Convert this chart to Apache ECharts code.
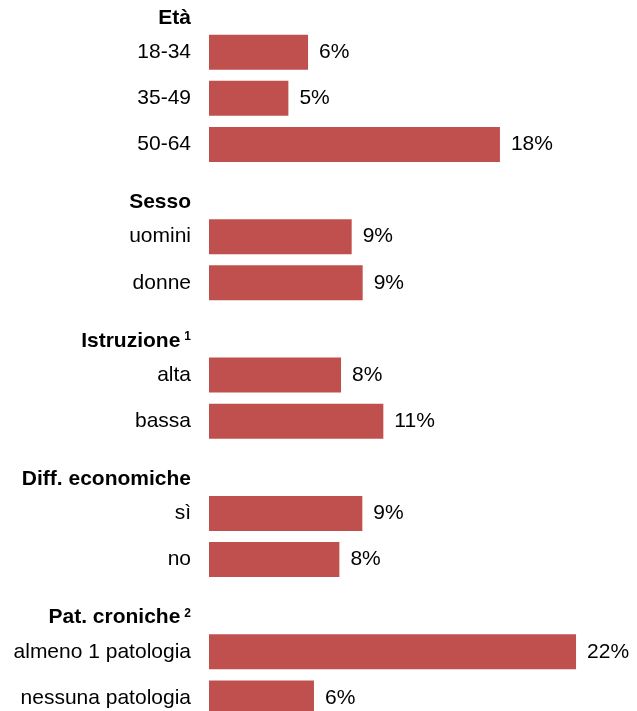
<!DOCTYPE html>
<html>
<head>
<meta charset="utf-8">
<script src="https://cdn.jsdelivr.net/npm/echarts@6/dist/echarts.min.js"></script>
<style>
html,body{margin:0;padding:0;background:#fff;overflow:hidden;width:637px;height:711px;}
#chart{position:absolute;left:0;top:-17px;width:637px;height:738px;}
</style>
</head>
<body>
<div id="chart"></div>
<script>
// Categories (group headers included as empty rows)
var categories = ['Età','18-34','35-49','50-64','Sesso','uomini','donne','Istruzione','alta','bassa','Diff. economiche','sì','no','Pat. croniche','almeno 1 patologia','nessuna patologia'];
// Which rows are group headers, and their footnote marks
var headers = ['Età','Sesso','Istruzione','Diff. economiche','Pat. croniche'];
var footnotes = {'Istruzione':'1','Pat. croniche':'2'};
// Values in percent (null for header rows)
var values = [null, 6.04, 4.84, 17.74, null, 8.70, 9.37, null, 8.05, 10.63, null, 9.35, 7.95, null, 22.38, 6.40];

var chart = echarts.init(document.getElementById('chart'), null, {renderer:'canvas'});
var FONT = 'Liberation Sans, Arial, sans-serif';
chart.setOption({
  animation:false,
  grid:{left:209, top:0, bottom:0, width:410, containLabel:false},
  xAxis:{type:'value', min:0, max:25, show:false},
  yAxis:{
    type:'category', data:categories, inverse:true,
    axisLine:{show:false}, axisTick:{show:false}, splitLine:{show:false},
    axisLabel:{
      margin:18, color:'#000', fontSize:21, fontFamily:FONT,
      formatter:function(v){
        if(headers.indexOf(v) >= 0){
          var s = '{h|' + v + '}';
          if(footnotes[v]) s += '{sup|' + footnotes[v] + '}';
          return s;
        }
        return v;
      },
      rich:{
        h:{fontSize:21, fontWeight:'bold', color:'#000', fontFamily:FONT, padding:[24,0,0,0]},
        sup:{fontSize:12, fontWeight:'bold', color:'#000', fontFamily:FONT, padding:[16,0,0,4]}
      }
    }
  },
  series:[{
    type:'bar', data:values, barWidth:35,
    itemStyle:{color:'#C0504D'},
    label:{
      show:true, position:'right', distance:11, color:'#000', fontSize:21, fontFamily:FONT,
      formatter:function(p){ return p.value==null ? '' : Math.round(p.value) + '%'; }
    }
  }]
});
</script>
</body>
</html>
